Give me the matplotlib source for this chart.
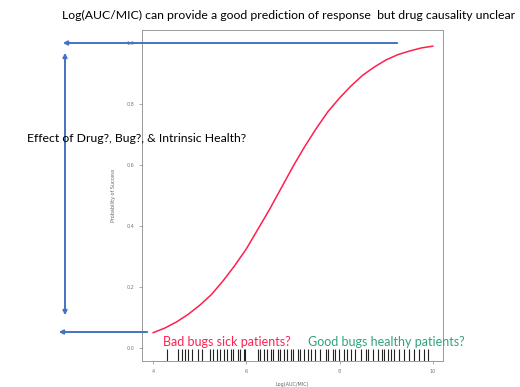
import numpy as np
import matplotlib.pyplot as plt
from matplotlib.patches import FancyArrowPatch

# fitted response curve
logratio = [4.0, 4.25, 4.5, 4.75, 5.0, 5.25, 5.5, 5.75, 6.0, 6.25, 6.5, 6.75, 7.0,
            7.25, 7.5, 7.75, 8.0, 8.25, 8.5, 8.75, 9.0, 9.25, 9.5, 9.75, 10.0]
p_success = [0.05, 0.065, 0.085, 0.11, 0.14, 0.175, 0.22, 0.27, 0.325, 0.39, 0.455,
             0.525, 0.595, 0.66, 0.72, 0.775, 0.82, 0.86, 0.895, 0.922, 0.945,
             0.962, 0.974, 0.984, 0.99]

# observed patients (rug)
rug = [4.30, 4.54, 4.62, 4.69, 4.75, 4.84, 4.97, 5.05, 5.23, 5.29, 5.38, 5.44, 5.51,
       5.59, 5.66, 5.72, 5.81, 5.87, 5.94, 5.98, 6.24, 6.30, 6.37, 6.45, 6.52, 6.58,
       6.67, 6.73, 6.80, 6.88, 6.95, 7.01, 7.10, 7.16, 7.23, 7.33, 7.38, 7.48, 7.59,
       7.70, 7.76, 7.85, 7.91, 7.98, 8.09, 8.17, 8.24, 8.34, 8.45, 8.56, 8.62, 8.71,
       8.82, 8.92, 8.95, 9.03, 9.10, 9.16, 9.27, 9.38, 9.48, 9.59, 9.70, 9.81, 9.89]

xticks = [4, 6, 8, 10]
yticks = [0.0, 0.2, 0.4, 0.6, 0.8, 1.0]

fig = plt.figure(figsize=(5.2, 3.87), dpi=100)
ax = fig.add_axes([142/520, 26/387, 301/520, 331/387])

ax.plot(logratio, p_success, color='#ff1f4f', lw=1.1)
ax.vlines(rug, -0.043, -0.043 + 0.038, color='#222222', lw=0.8)

ax.set_xlim(3.76, 10.22)
ax.set_ylim(-0.043, 1.043)
ax.set_xticks(xticks)
ax.set_yticks(yticks)
ax.tick_params(labelsize=3.5, labelcolor='#777777', color='#888888', length=2, width=0.5)
for s in ax.spines.values():
    s.set_color('#999999')
    s.set_linewidth(0.7)
ax.set_ylabel('Probability of Success', fontsize=3.5, color='#666666', labelpad=8)
ax.set_xlabel('Log(AUC/MIC)', fontsize=3.5, color='#666666', labelpad=6)

font = 'Lato'
fig.text(62/520, 1 - 15/387, 'Log(AUC/MIC) can provide a good prediction of response  but drug causality unclear',
         fontsize=8.8, family=font, va='center', ha='left')
fig.text(27/520, 1 - 138/387, 'Effect of Drug?, Bug?, & Intrinsic Health?',
         fontsize=8.8, family=font, va='center', ha='left')
fig.text(163/520, 1 - 342/387, 'Bad bugs sick patients?', color='#ff1f4f',
         fontsize=9, family=font, va='center', ha='left')
fig.text(308/520, 1 - 342/387, 'Good bugs healthy patients?', color='#2fa37a',
         fontsize=9, family=font, va='center', ha='left')

# blue arrows in figure pixels
blue = '#4472c4'
def arrow(p0, p1, style):
    a = FancyArrowPatch((p0[0], 387 - p0[1]), (p1[0], 387 - p1[1]), transform=None,
                        arrowstyle=style, mutation_scale=6, color=blue, lw=1.4)
    fig.add_artist(a)

arrow((400, 43), (60, 43), '-|>')
arrow((65, 50), (65, 318), '<|-|>')
arrow((150, 332), (56, 332), '-|>')

fig.savefig('out.png', dpi=100)
